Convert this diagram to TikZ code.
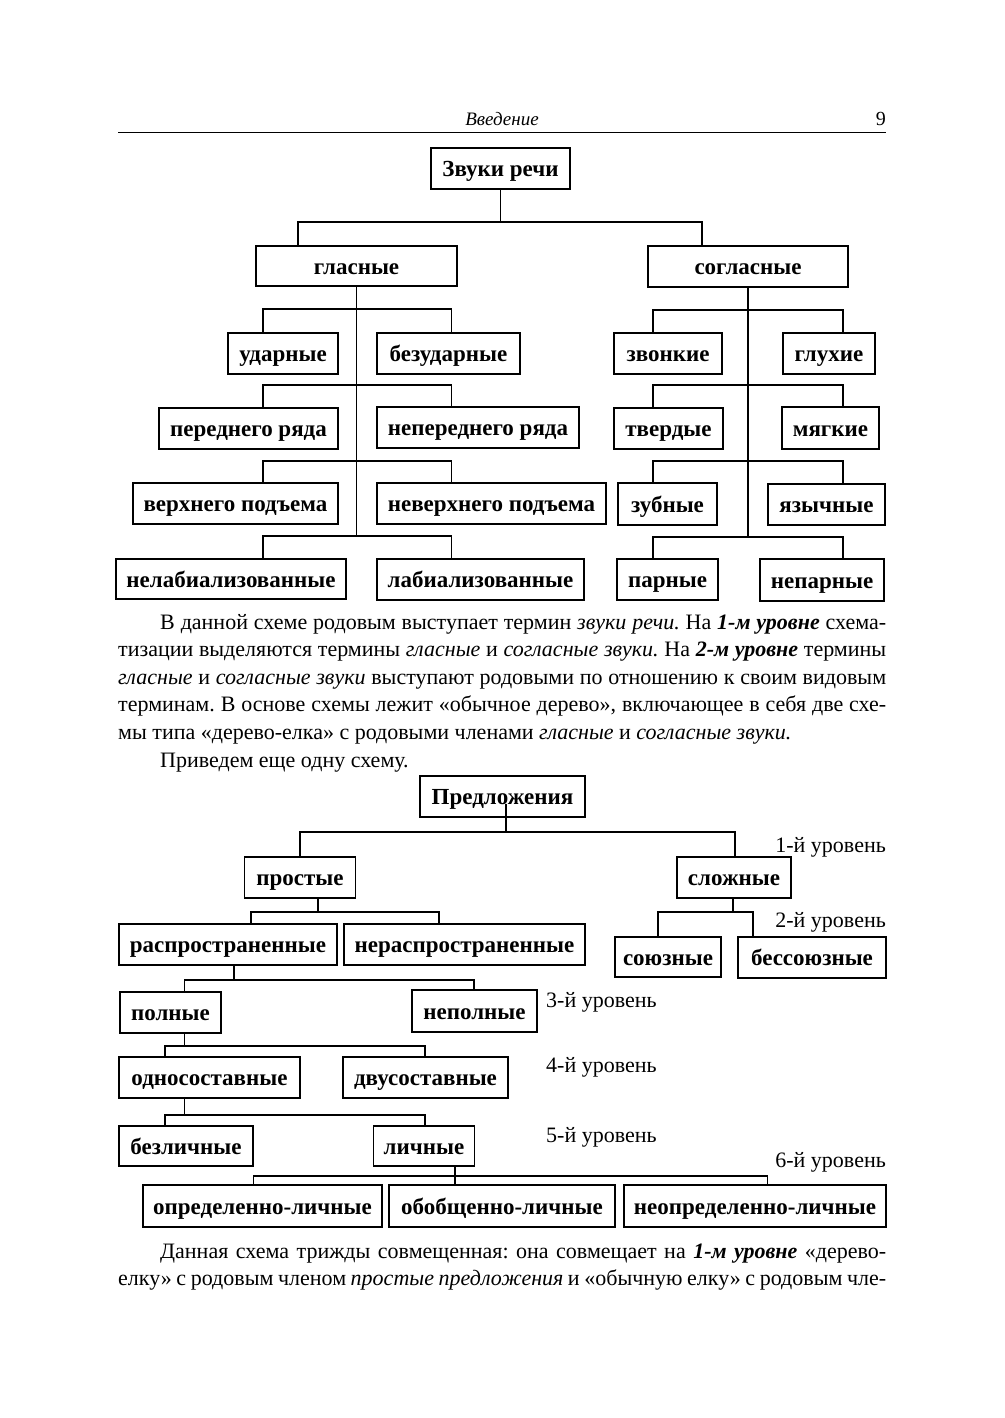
\documentclass[tikz,border=0pt]{standalone}
\usepackage{fontspec}
\setmainfont{Liberation Serif}
\frenchspacing
\tikzset{
  termbox/.style={draw=black, line width=1.2pt, inner sep=0pt, align=center,
                  font=\fontsize{23}{26}\selectfont\bfseries, text height=19pt, text depth=3pt},
  treeline/.style={line width=1.2pt, black},
  levellabel/.style={inner sep=0pt, font=\fontsize{22}{26}\selectfont},
  textline/.style={anchor=base west, inner sep=0pt, font=\fontsize{22}{27.5}\selectfont},
}

\begin{document}
\begin{tikzpicture}[x=1pt, y=-1pt]
  \path[use as bounding box, fill=white] (0,0) rectangle (1004,1418);

  % running head
  \node[anchor=base, inner sep=0pt, font=\fontsize{19}{22}\selectfont\itshape] (runhead) at (502,125) {Введение};
  \node[anchor=base east, inner sep=0pt, font=\fontsize{20}{22}\selectfont] (pageno) at (886,125) {9};
  \draw[line width=0.9pt] (118,132) -- (886,132);

  % first scheme
  \node[termbox, minimum width=139, minimum height=41] (zv) at (500.5,168.5) {Звуки речи};
  \node[termbox, minimum width=201, minimum height=40] (gl) at (356.5,266) {гласные};
  \node[termbox, minimum width=200, minimum height=41] (sg) at (748,266.5) {согласные};

  \node[termbox, minimum width=110, minimum height=41] (ud) at (283,353.5) {ударные};
  \node[termbox, minimum width=143, minimum height=41] (bz) at (448.5,353.5) {безударные};
  \node[termbox, minimum width=179, minimum height=41] (pr) at (248.5,428.5) {переднего ряда};
  \node[termbox, minimum width=202, minimum height=41] (np) at (478,427.5) {непереднего ряда};
  \node[termbox, minimum width=205, minimum height=41] (vp) at (235.5,503.5) {верхнего подъема};
  \node[termbox, minimum width=229, minimum height=41] (nv) at (491.5,503.5) {неверхнего подъема};
  \node[termbox, minimum width=230, minimum height=40] (nl) at (231,579) {нелабиализованные};
  \node[termbox, minimum width=207, minimum height=41] (lb) at (480.5,579.5) {лабиализованные};

  \node[termbox, minimum width=108, minimum height=41] (zk) at (668,353.5) {звонкие};
  \node[termbox, minimum width=92, minimum height=41] (gx) at (829,353.5) {глухие};
  \node[termbox, minimum width=109, minimum height=41] (tv) at (668.5,428.5) {твердые};
  \node[termbox, minimum width=97, minimum height=42] (mg) at (830.5,428) {мягкие};
  \node[termbox, minimum width=99, minimum height=42] (zb) at (667.5,504) {зубные};
  \node[termbox, minimum width=117, minimum height=41] (ya) at (826.5,504.5) {язычные};
  \node[termbox, minimum width=101, minimum height=41] (pa) at (667.5,579.5) {парные};
  \node[termbox, minimum width=124, minimum height=42] (ne) at (822,580) {непарные};

  \coordinate (z0l) at (298,222);
  \coordinate (z0r) at (702,222);
  \coordinate (g1l) at (263,309);  \coordinate (g1r) at (451.5,309);
  \coordinate (g2l) at (263,385);  \coordinate (g2r) at (451.5,385);
  \coordinate (g3l) at (263,461);  \coordinate (g3r) at (451.5,461);
  \coordinate (g4l) at (263,536);  \coordinate (g4r) at (451.5,536);
  \coordinate (s1l) at (653,310);  \coordinate (s1r) at (843,310);
  \coordinate (s2l) at (653,385);  \coordinate (s2r) at (843,385);
  \coordinate (s3l) at (653,461);  \coordinate (s3r) at (843,461);
  \coordinate (s4l) at (653,537);  \coordinate (s4r) at (843,537);

  \draw[treeline] (zv.south) -- (zv.south |- z0l);
  \draw[treeline] (gl.north -| z0l) |- (z0r) -- (z0r |- sg.north);
  \draw[treeline] (gl.south) -- (gl.south |- g4l);
  \draw[treeline] (sg.south) -- (sg.south |- s4l);

  \draw[treeline] (ud.north -| g1l) |- (g1r) -- (g1r |- bz.north);
  \draw[treeline] (pr.north -| g2l) |- (g2r) -- (g2r |- np.north);
  \draw[treeline] (vp.north -| g3l) |- (g3r) -- (g3r |- nv.north);
  \draw[treeline] (nl.north -| g4l) |- (g4r) -- (g4r |- lb.north);
  \draw[treeline] (zk.north -| s1l) |- (s1r) -- (s1r |- gx.north);
  \draw[treeline] (tv.north -| s2l) |- (s2r) -- (s2r |- mg.north);
  \draw[treeline] (zb.north -| s3l) |- (s3r) -- (s3r |- ya.north);
  \draw[treeline] (pa.north -| s4l) |- (s4r) -- (s4r |- ne.north);

  % text between the schemes
  \node[textline] (t1) at (160,629) {\makebox[726pt][s]{В данной схеме родовым выступает термин \textit{звуки речи.} На \textbf{\textit{1-м уровне}} схема-}};
  \node[textline] (t2) at (118,656) {\makebox[768pt][s]{тизации выделяются термины \textit{гласные} и \textit{согласные звуки.} На \textbf{\textit{2-м уровне}} термины}};
  \node[textline] (t3) at (118,684) {\makebox[768pt][s]{\textit{гласные} и \textit{согласные звуки} выступают родовыми по отношению к своим видовым}};
  \node[textline] (t4) at (118,711) {\makebox[768pt][s]{терминам. В основе схемы лежит «обычное дерево», включающее в себя две схе-}};
  \node[textline] (t5) at (118,739) {мы типа «дерево-елка» с родовыми членами \textit{гласные} и \textit{согласные звуки.}};
  \node[textline] (t6) at (160,767) {Приведем еще одну схему.};

  % second scheme
  \node[termbox, minimum width=165, minimum height=41] (pd) at (502.5,796.5) {Предложения};
  \node[termbox, minimum width=111, minimum height=41] (ps) at (300,877.5) {простые};
  \node[termbox, minimum width=114, minimum height=41] (sl) at (734,877.5) {сложные};
  \node[termbox, minimum width=218, minimum height=41] (rs) at (228,944.5) {распространенные};
  \node[termbox, minimum width=241, minimum height=41] (nr) at (464.5,944.5) {нераспространенные};
  \node[termbox, minimum width=106, minimum height=40] (su) at (668,957) {союзные};
  \node[termbox, minimum width=148, minimum height=41] (bs) at (812,957.5) {бессоюзные};
  \node[termbox, minimum width=101, minimum height=41] (pl) at (170.5,1012.5) {полные};
  \node[termbox, minimum width=125, minimum height=42] (npl) at (474.5,1011) {неполные};
  \node[termbox, minimum width=181, minimum height=41] (od) at (209.5,1077.5) {односоставные};
  \node[termbox, minimum width=165, minimum height=41] (dv) at (425.5,1077.5) {двусоставные};
  \node[termbox, minimum width=134, minimum height=40] (bl) at (186,1146) {безличные};
  \node[termbox, minimum width=101, minimum height=40] (li) at (424,1146) {личные};
  \node[termbox, minimum width=239, minimum height=42] (op) at (262.5,1206) {определенно-личные};
  \node[termbox, minimum width=226, minimum height=42] (ob) at (502,1206) {обобщенно-личные};
  \node[termbox, minimum width=262, minimum height=42] (no) at (755,1206) {неопределенно-личные};

  \node[levellabel, anchor=base east] (lv1) at (886,852) {1-й уровень};
  \node[levellabel, anchor=base east] (lv2) at (886,927) {2-й уровень};
  \node[levellabel, anchor=base west] (lv3) at (546,1007) {3-й уровень};
  \node[levellabel, anchor=base west] (lv4) at (546,1072) {4-й уровень};
  \node[levellabel, anchor=base west] (lv5) at (546,1142) {5-й уровень};
  \node[levellabel, anchor=base east] (lv6) at (886,1167) {6-й уровень};

  \coordinate (p0l) at (300,832);   \coordinate (p0m) at (506,832);   \coordinate (p0r) at (735,832);
  \coordinate (p1l) at (251,912);   \coordinate (p1m) at (318,912);   \coordinate (p1r) at (439,912);
  \coordinate (p2l) at (658,912);   \coordinate (p2m) at (733,912);   \coordinate (p2r) at (753,912);
  \coordinate (p3l) at (184.5,980); \coordinate (p3m) at (234,980);   \coordinate (p3r) at (474,980);
  \coordinate (p4l) at (165,1046);  \coordinate (p4m) at (184.5,1046); \coordinate (p4r) at (425,1046);
  \coordinate (p5l) at (165,1115);  \coordinate (p5m) at (184.5,1115); \coordinate (p5r) at (425,1115);
  \coordinate (p6l) at (253.5,1176); \coordinate (p6m) at (455,1176); \coordinate (p6r) at (767.5,1176);

  \draw[treeline] ([yshift=14pt]pd.south -| p0m) -- (p0m);
  \draw[treeline] (ps.north -| p0l) |- (p0r) -- (p0r |- sl.north);
  \draw[treeline] (ps.south -| p1m) -- (p1m);
  \draw[treeline] (rs.north -| p1l) |- (p1r) -- (p1r |- nr.north);
  \draw[treeline] (sl.south -| p2m) -- (p2m);
  \draw[treeline] (su.north -| p2l) |- (p2r) -- (p2r |- bs.north);
  \draw[treeline] (rs.south -| p3m) -- (p3m);
  \draw[treeline] (pl.north -| p3l) |- (p3r) -- (p3r |- npl.north);
  \draw[treeline] (pl.south -| p4m) -- (p4m);
  \draw[treeline] (od.north -| p4l) |- (p4r) -- (p4r |- dv.north);
  \draw[treeline] (od.south -| p5m) -- (p5m);
  \draw[treeline] (bl.north -| p5l) |- (p5r) -- (p5r |- li.north);
  \draw[treeline] (li.south -| p6m) -- (p6m |- ob.north);
  \draw[treeline] (op.north -| p6l) |- (p6r) -- (p6r |- no.north);

  % text after the second scheme
  \node[textline] (b1) at (160,1258) {\makebox[726pt][s]{Данная схема трижды совмещенная: она совмещает на \textbf{\textit{1-м уровне}} «дерево-}};
  \node[textline] (b2) at (118,1285) {\makebox[768pt][s]{елку» с родовым членом \textit{простые предложения} и «обычную елку» с родовым чле-}};
\end{tikzpicture}
\end{document}
